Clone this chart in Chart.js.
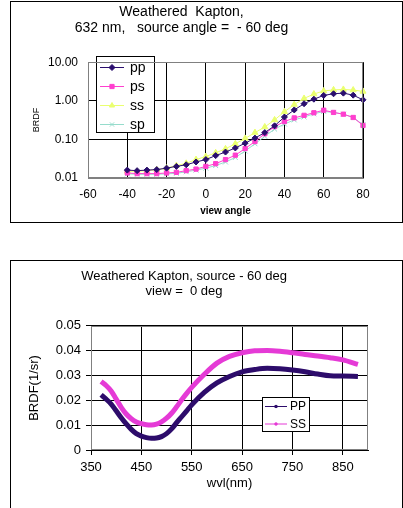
<!DOCTYPE html>
<html><head><meta charset="utf-8">
<script src="https://cdn.jsdelivr.net/npm/chart.js@4"></script>
<style>
html,body{margin:0;padding:0;background:#fff;width:403px;height:508px;overflow:hidden}
.frame{position:absolute;border:1px solid #000;box-sizing:border-box}
.wrap{position:absolute;left:0;width:403px}
</style></head><body>
<div class="frame" style="left:10px;top:1px;width:393px;height:222px"></div>
<div class="frame" style="left:10px;top:260px;width:393px;height:260px"></div>
<div class="wrap" style="top:0;height:240px"><canvas id="c1"></canvas></div>
<div class="wrap" style="top:240px;height:268px"><canvas id="c2"></canvas></div>
<script>
// ---- Top chart data ----
const viewAngles = [-40,-35,-30,-25,-20,-15,-10,-5,0,5,10,15,20,25,30,35,40,45,50,55,60,65,70,75,80];
const ppValues = [0.016,0.0155,0.016,0.0165,0.018,0.02,0.022,0.026,0.03,0.038,0.047,0.06,0.08,0.108,0.15,0.225,0.38,0.58,0.84,1.1,1.38,1.52,1.58,1.4,1.06];
const psValues = [0.0135,0.013,0.013,0.013,0.0135,0.014,0.0155,0.017,0.02,0.0235,0.03,0.039,0.058,0.088,0.14,0.215,0.29,0.36,0.42,0.49,0.57,0.5,0.45,0.37,0.23];
const ssValues = [0.015,0.0148,0.0155,0.0165,0.018,0.021,0.024,0.03,0.036,0.045,0.057,0.077,0.106,0.15,0.21,0.32,0.52,0.8,1.15,1.5,1.8,1.92,1.97,1.9,1.75];
const spValues = [0.0128,0.0125,0.0125,0.0125,0.0128,0.0132,0.0145,0.016,0.018,0.021,0.026,0.034,0.05,0.077,0.12,0.185,0.25,0.32,0.38,0.46,0.53,0.5,0.45,0.37,0.24];
const logTicks = [0.01,0.1,1,10];
const angleTicks = [-60,-40,-20,0,20,40,60,80];

// ---- Bottom chart data ----
const wavelengths = [370,380,390,400,410,420,430,440,450,460,470,480,490,500,510,520,530,540,550,575,600,625,650,675,700,725,750,775,800,825,850,880];
const PPValues = [0.0222,0.0205,0.0185,0.0158,0.013,0.0105,0.0083,0.0066,0.0056,0.005,0.0047,0.0048,0.0054,0.0066,0.0085,0.011,0.0134,0.0158,0.0182,0.0232,0.027,0.0296,0.0315,0.0324,0.0329,0.0327,0.0322,0.0315,0.0306,0.0299,0.0298,0.0296];
const SSValues = [0.0276,0.026,0.0238,0.0205,0.0172,0.0145,0.0126,0.0113,0.0106,0.0102,0.0101,0.0104,0.0113,0.0128,0.0148,0.0174,0.0202,0.0228,0.0252,0.0305,0.035,0.0377,0.0392,0.04,0.0401,0.0398,0.0392,0.0385,0.0379,0.0372,0.0363,0.0345];
const wvlTicks = [350,450,550,650,750,850];

const FONT = "'Liberation Sans', Arial, Helvetica, sans-serif";

const pairs = (xs, ys) => xs.map((x,i)=>({x, y: ys[i]}));

const boxLegend = {
  id: 'boxLegend',
  afterDatasetsDraw(chart, args, o) {
    if (!o || !o.box) return;
    const ctx = chart.ctx;
    const [bx, by, bw, bh] = o.box;
    ctx.save();
    ctx.fillStyle = '#fff';
    ctx.fillRect(bx, by, bw, bh);
    ctx.strokeStyle = '#000';
    ctx.lineWidth = 1;
    ctx.strokeRect(bx + 0.5, by + 0.5, bw, bh);
    chart.data.datasets.forEach((ds, i) => {
      const y = o.firstY + i * o.rowH;
      ctx.strokeStyle = ds.borderColor;
      ctx.lineWidth = 1;
      ctx.beginPath();
      ctx.moveTo(o.x1, y + 0.5);
      ctx.lineTo(o.x2, y + 0.5);
      ctx.stroke();
      ctx.fillStyle = ds.borderColor;
      ctx.strokeStyle = ds.borderColor;
      Chart.helpers.drawPoint(ctx, {pointStyle: o.markers[i], radius: o.markerRadius, borderWidth: 1, rotation: 0}, (o.x1 + o.x2) / 2, y + 0.5);
      ctx.fillStyle = '#000';
      ctx.font = o.font;
      ctx.textAlign = 'left';
      ctx.textBaseline = 'middle';
      ctx.fillText(ds.label, o.textX, y + 1);
    });
    ctx.restore();
  }
};

const plotBorder = {
  id: 'plotBorder',
  afterDraw(chart, args, o) {
    const a = chart.chartArea;
    const ctx = chart.ctx;
    ctx.save();
    ctx.strokeStyle = o.color || '#808080';
    ctx.lineWidth = 1;
    ctx.strokeRect(Math.round(a.left) + 0.5, Math.round(a.top) + 0.5, Math.round(a.right - a.left) - 1, Math.round(a.bottom - a.top) - 1);
    ctx.restore();
  }
};

Chart.register(boxLegend, plotBorder);

// ---- Top chart ----
new Chart(document.getElementById('c1'), {
  type: 'line',
  data: {
    datasets: [
      {label: 'pp', data: pairs(viewAngles, ppValues), borderColor: '#2a0e6e', backgroundColor: '#2a0e6e', pointStyle: 'rectRot', pointRadius: 3, borderWidth: 1, clip: 8},
      {label: 'ps', data: pairs(viewAngles, psValues), borderColor: '#ff3fcf', backgroundColor: '#ff3fcf', pointStyle: 'rect', pointRadius: 3, borderWidth: 1, clip: 8},
      {label: 'ss', data: pairs(viewAngles, ssValues), borderColor: '#eaff70', backgroundColor: '#eaff70', pointStyle: 'triangle', pointRadius: 3.5, borderWidth: 1, clip: 8},
      {label: 'sp', data: pairs(viewAngles, spValues), borderColor: '#96dccc', backgroundColor: '#96dccc', pointStyle: 'crossRot', pointRadius: 3.5, borderWidth: 1, clip: 8}
    ]
  },
  options: {
    responsive: true, maintainAspectRatio: false, animation: false, devicePixelRatio: 1,
    layout: {padding: {left: 0, right: 40, top: 0, bottom: 0}},
    plugins: {
      legend: {display: false},
      tooltip: {enabled: false},
      title: {
        display: true,
        text: ['Weathered  Kapton,', '632 nm,   source angle =  - 60 deg'],
        color: '#000',
        font: {family: FONT, size: 14, weight: 'normal', lineHeight: 1.15},
        padding: {top: 4, bottom: 26}
      },
      boxLegend: {
        box: [96, 56, 58, 76], firstY: 67, rowH: 19, x1: 100, x2: 124, textX: 130,
        markers: ['rectRot', 'rect', 'triangle', 'crossRot'], markerRadius: 3,
        font: "14px " + FONT
      },
      plotBorder: {color: '#808080'}
    },
    scales: {
      x: {
        type: 'linear', min: -60, max: 80,
        afterBuildTicks: s => { s.ticks = angleTicks.map(v => ({value: v})); },
        afterFit: s => { s.height = 62; },
        grid: {color: '#000', drawTicks: false, lineWidth: 1},
        border: {color: '#808080'},
        ticks: {color: '#000', padding: 9, font: {family: FONT, size: 12}, maxRotation: 0},
        title: {display: true, text: 'view angle', color: '#000', font: {family: FONT, size: 10, weight: 'bold'}, padding: {top: 0, bottom: 23}}
      },
      y: {
        type: 'logarithmic', min: 0.01, max: 10,
        afterBuildTicks: s => { s.ticks = logTicks.map(v => ({value: v})); },
        afterFit: s => { s.width = 88; },
        grid: {color: '#000', drawTicks: false, lineWidth: 1},
        border: {color: '#808080'},
        ticks: {color: '#000', padding: 10, font: {family: FONT, size: 12}, callback: v => Number(v).toFixed(2)},
        title: {display: true, text: 'BRDF', color: '#000', font: {family: FONT, size: 9}, padding: {top: 31, bottom: 0}}
      }
    }
  }
});

// ---- Bottom chart ----
new Chart(document.getElementById('c2'), {
  type: 'line',
  data: {
    datasets: [
      {label: 'PP', data: pairs(wavelengths, PPValues), borderColor: '#2d0c6b', backgroundColor: '#2d0c6b', borderWidth: 5, pointRadius: 0, tension: 0.4, cubicInterpolationMode: 'monotone'},
      {label: 'SS', data: pairs(wavelengths, SSValues), borderColor: '#e53ad6', backgroundColor: '#e53ad6', borderWidth: 5, pointRadius: 0, tension: 0.4, cubicInterpolationMode: 'monotone'}
    ]
  },
  options: {
    responsive: true, maintainAspectRatio: false, animation: false, devicePixelRatio: 1,
    layout: {padding: {left: 0, right: 35, top: 0, bottom: 0}},
    plugins: {
      legend: {display: false},
      tooltip: {enabled: false},
      title: {
        display: true,
        text: ['Weathered Kapton, source - 60 deg', 'view =  0 deg'],
        color: '#000',
        font: {family: FONT, size: 13, weight: 'normal', lineHeight: 1.15},
        padding: {top: 29, bottom: 27}
      },
      boxLegend: {
        box: [262, 157, 47, 34], firstY: 166, rowH: 17.5, x1: 265, x2: 287, textX: 290,
        markers: ['rect', 'rect'], markerRadius: 1.5,
        font: "12px " + FONT
      },
      plotBorder: {color: '#808080'}
    },
    scales: {
      x: {
        type: 'linear', min: 350, max: 900,
        afterBuildTicks: s => { s.ticks = wvlTicks.map(v => ({value: v})); },
        afterFit: s => { s.height = 58; },
        grid: {color: '#000', drawTicks: true, tickLength: 5, lineWidth: 1},
        border: {color: '#000'},
        ticks: {color: '#000', padding: 5, font: {family: FONT, size: 13}, maxRotation: 0},
        title: {display: true, text: 'wvl(nm)', color: '#000', font: {family: FONT, size: 13}, padding: {top: 0, bottom: 17}}
      },
      y: {
        type: 'linear', min: 0, max: 0.05,
        afterBuildTicks: s => { s.ticks = [0,0.01,0.02,0.03,0.04,0.05].map(v => ({value: v})); },
        afterFit: s => { s.width = 91; },
        grid: {color: '#000', drawTicks: true, tickLength: 5, lineWidth: 1},
        border: {color: '#000'},
        ticks: {color: '#000', padding: 5, font: {family: FONT, size: 13}, callback: v => v === 0 ? '0' : Number(v).toFixed(2)},
        title: {display: true, text: 'BRDF(1/sr)', color: '#000', font: {family: FONT, size: 13}, padding: {top: 27, bottom: 0}}
      }
    }
  }
});
</script>
</body></html>
